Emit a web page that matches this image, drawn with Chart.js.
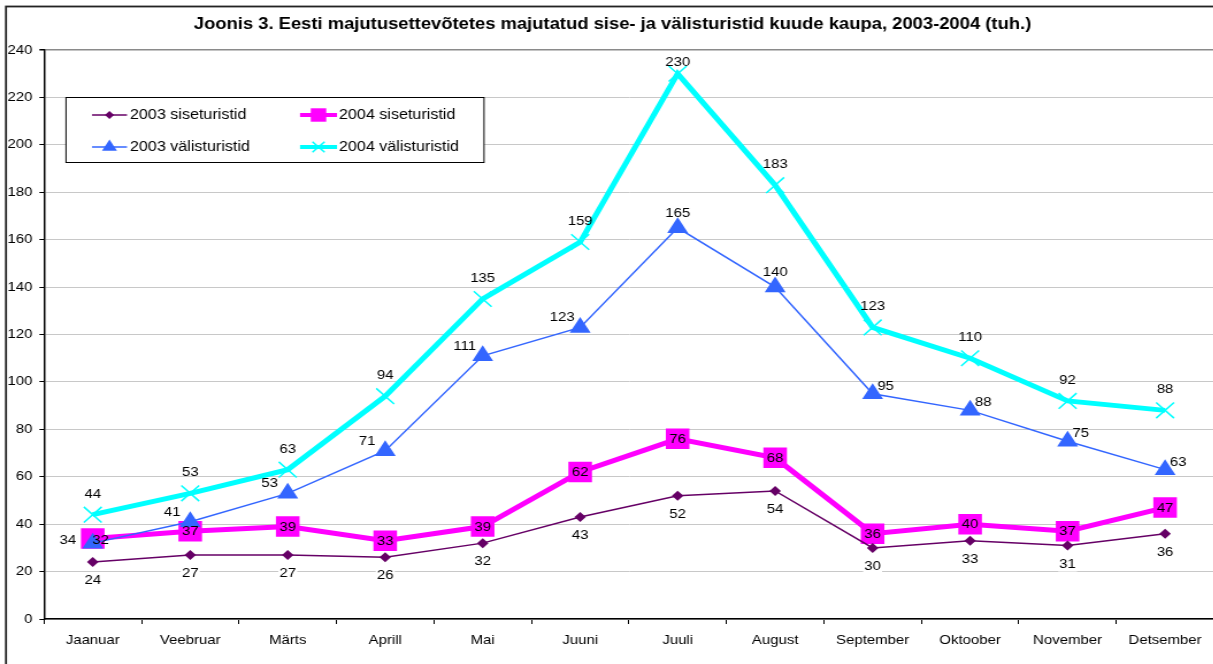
<!DOCTYPE html>
<html><head><meta charset="utf-8">
<script src="https://cdn.jsdelivr.net/npm/chart.js@4"></script>
<style>
html,body{margin:0;padding:0;background:#fff;overflow:hidden;width:1213px;height:664px;}
#wrap{position:absolute;left:0;top:0;width:1070px;height:680px;transform:scaleX(1.15);transform-origin:0 0;}
</style></head><body>
<div id="wrap"><canvas id="c" width="1070" height="680"></canvas></div>
<script>
const titleText = 'Joonis 3. Eesti majutusettevõtetes majutatud sise- ja välisturistid kuude kaupa, 2003-2004 (tuh.)';
const months = ['Jaanuar','Veebruar','Märts','Aprill','Mai','Juuni','Juuli','August','September','Oktoober','November','Detsember'];
const seriesNames = ['2003 siseturistid','2004 siseturistid','2003 välisturistid','2004 välisturistid'];
const sise2003  = [24,27,27,26,32,43,52,54,30,33,31,36];
const sise2004  = [34,37,39,33,39,62,76,68,36,40,37,47];
const valis2003 = [32,41,53,71,111,123,165,140,95,88,75,63];
const valis2004 = [44,53,63,94,135,159,230,183,123,110,92,88];
const yMin = 0, yMax = 240, yStep = 20;

const FONT = '"Liberation Sans", Arial, sans-serif';
const SX = 1.15; // horizontal stretch of the original picture

const styles = [
  {color:'#660066', width:1.5, point:'rectRot', r:5},
  {color:'#FF00FF', width:5, point:'rect', r:14.5},
  {color:'#3366FF', width:1.5, point:'triangle', r:10.5},
  {color:'#00FFFF', width:5, point:'crossRot', r:11}
];
const seriesData = [sise2003, sise2004, valis2003, valis2004];
const orders = [1,3,2,4];

const datasets = seriesData.map((d,k)=>({
  label: seriesNames[k],
  data: d,
  borderColor: styles[k].color,
  backgroundColor: styles[k].color,
  borderWidth: styles[k].width,
  pointStyle: styles[k].point,
  pointRadius: styles[k].r,
  pointBorderWidth: styles[k].point==='crossRot' ? 1.5 : 0,
  pointBorderColor: styles[k].color,
  pointBackgroundColor: styles[k].color,
  tension: 0,
  order: orders[k]
}));

function labelOffset(k, i){
  if (k===0) return {dx:0, dy:18};
  if (k===1) return i===0 ? {dx:-25/SX, dy:2} : {dx:0, dy:0};
  if (k===2){
    if (i===0) return {dx:8/SX, dy:-3};
    if (i<6) return {dx:-18/SX, dy:-10};
    if (i<8) return {dx:0, dy:-15};
    return {dx:13/SX, dy:-8};
  }
  return {dx:0, dy:-21};
}

function drawMarker(ctx, style, x, y, r){
  ctx.save();
  ctx.fillStyle = style.color; ctx.strokeStyle = style.color;
  ctx.beginPath();
  if (style.point==='rectRot'){
    ctx.moveTo(x, y-r); ctx.lineTo(x+r, y); ctx.lineTo(x, y+r); ctx.lineTo(x-r, y); ctx.closePath(); ctx.fill();
  } else if (style.point==='rect'){
    const s = r*Math.SQRT1_2; ctx.rect(x-s, y-s, 2*s, 2*s); ctx.fill();
  } else if (style.point==='triangle'){
    ctx.moveTo(x, y-r); ctx.lineTo(x+r*0.866, y+r/2); ctx.lineTo(x-r*0.866, y+r/2); ctx.closePath(); ctx.fill();
  } else {
    const s = r*Math.SQRT1_2; ctx.lineWidth = 1.5;
    ctx.moveTo(x-s, y-s); ctx.lineTo(x+s, y+s); ctx.moveTo(x+s, y-s); ctx.lineTo(x-s, y+s); ctx.stroke();
  }
  ctx.restore();
}

const decor = {
  id:'decor',
  beforeDraw(chart){
    const ctx = chart.ctx;
    ctx.save();
    ctx.fillStyle = '#fff'; ctx.fillRect(0,0,chart.width,chart.height);
    ctx.strokeStyle = '#222'; ctx.lineWidth = 1.8;
    ctx.strokeRect(6/SX, 6.5, chart.width+20, chart.height+20);
    ctx.fillStyle = '#000'; ctx.font = 'bold 16px ' + FONT;
    ctx.textAlign = 'center'; ctx.textBaseline = 'middle';
    ctx.fillText(titleText, 612.5/SX, 25);
    ctx.restore();
  },
  afterDatasetsDraw(chart){
    const ctx = chart.ctx;
    const top = chart.chartArea.top;
    ctx.save();
    ctx.font = '13px ' + FONT; ctx.textAlign = 'center'; ctx.textBaseline = 'middle';
    [1,0,2,3].forEach(k=>{
      const meta = chart.getDatasetMeta(k);
      meta.data.forEach((pt,i)=>{
        const o = labelOffset(k,i);
        let x = pt.x + o.dx, y = pt.y + o.dy;
        if (y < top + 12) y = top + 12;
        const txt = String(seriesData[k][i]);
        if (k===0){
          const w = ctx.measureText(txt).width;
          ctx.fillStyle = '#fff'; ctx.fillRect(x-w/2-1, y-8, w+2, 16);
        }
        ctx.fillStyle = '#000';
        ctx.fillText(txt, x, y+0.5);
      });
    });
    ctx.restore();
  },
  afterDraw(chart){
    const ctx = chart.ctx;
    ctx.save();
    const bx = 66/SX, by = 97.5, bw = (484-66)/SX, bh = 65;
    ctx.fillStyle = '#fff'; ctx.fillRect(bx, by, bw, bh);
    ctx.strokeStyle = '#000'; ctx.lineWidth = 1; ctx.strokeRect(bx, by, bw, bh);
    const cols = [{l:92/SX, r:127/SX, t:130/SX}, {l:300/SX, r:337/SX, t:339/SX}];
    const rows = [115, 147];
    const lsize = [4, 9.5, 7.5, 7.5];
    const place = [[0,0],[1,0],[0,1],[1,1]];
    ctx.font = '14px ' + FONT; ctx.textBaseline = 'middle'; ctx.textAlign = 'left';
    for (let k=0;k<4;k++){
      const c = cols[place[k][0]], y = rows[place[k][1]];
      ctx.strokeStyle = styles[k].color; ctx.lineWidth = styles[k].width===5 ? 4 : 1.5;
      ctx.beginPath(); ctx.moveTo(c.l, y); ctx.lineTo(c.r, y); ctx.stroke();
      drawMarker(ctx, styles[k], (c.l+c.r)/2, y, lsize[k]);
      ctx.fillStyle = '#000';
      ctx.fillText(seriesNames[k], c.t, y+0.5);
    }
    ctx.restore();
  }
};

new Chart(document.getElementById('c'), {
  type:'line',
  data:{labels: months, datasets},
  options:{
    responsive:false, devicePixelRatio:1, animation:false,
    layout:{padding:{top:50, left:0, right:12.2, bottom:21}},
    plugins:{legend:{display:false}, title:{display:false}, tooltip:{enabled:false}},
    scales:{
      x:{
        offset:true,
        grid:{offset:true, drawOnChartArea:false, drawTicks:true, tickLength:5, tickColor:'#000', tickWidth:1},
        border:{color:'#000', width:1.5},
        ticks:{font:{family:FONT, size:13}, color:'#000', padding:9, maxRotation:0, autoSkip:false},
        afterFit(s){ s.height = 40; }
      },
      y:{
        min:yMin, max:yMax,
        grid:{color:(c)=> c.tick && c.tick.value===yMax ? '#8a8a8a' : '#C8C8C8', lineWidth:(c)=> c.tick && c.tick.value===yMax ? 1.5 : 1, tickColor:'#000', tickLength:4},
        border:{color:'#000', width:1.5},
        ticks:{stepSize:yStep, font:{family:FONT, size:13}, color:'#000', padding:6},
        afterFit(s){ s.width = 44/SX; }
      }
    }
  },
  plugins:[decor]
});
</script>
</body></html>
